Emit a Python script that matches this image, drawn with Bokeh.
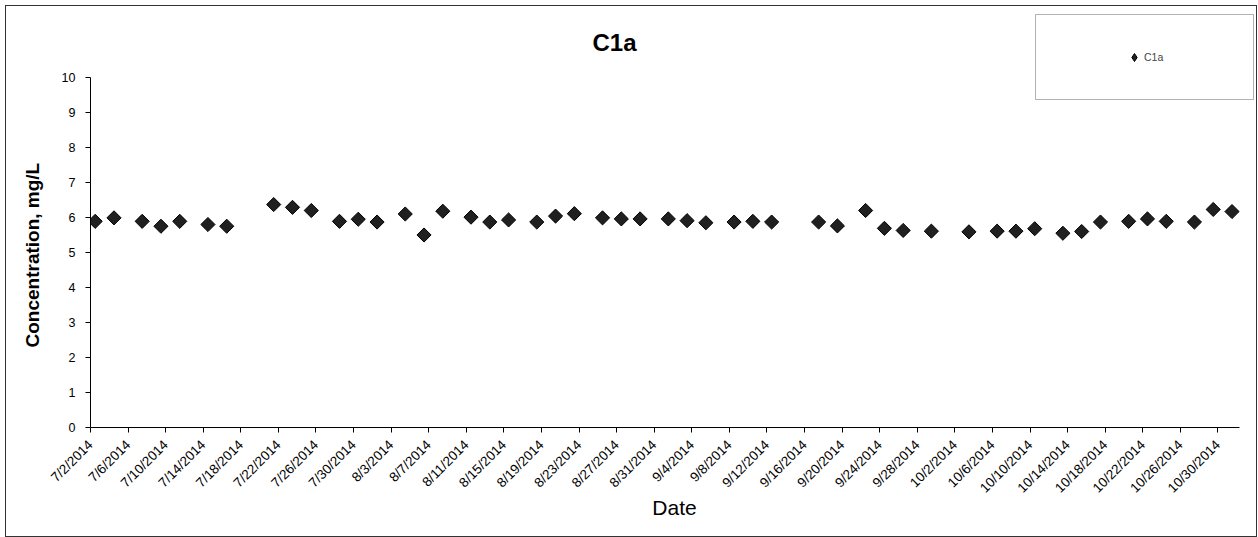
import numpy as np
import pandas as pd
from bokeh.plotting import figure
from bokeh.models import (Range1d, FixedTicker, Label, BoxAnnotation, Legend,
                          LegendItem, ColumnDataSource, Title, InlineStyleSheet)
from bokeh.embed import file_html
from bokeh.resources import INLINE

# ---------------- data ----------------
dates = [
    "2014-07-02", "2014-07-04", "2014-07-07", "2014-07-09", "2014-07-11",
    "2014-07-14", "2014-07-16", "2014-07-21", "2014-07-23", "2014-07-25",
    "2014-07-28", "2014-07-30", "2014-08-01", "2014-08-04", "2014-08-06",
    "2014-08-08", "2014-08-11", "2014-08-13", "2014-08-15", "2014-08-18",
    "2014-08-20", "2014-08-22", "2014-08-25", "2014-08-27", "2014-08-29",
    "2014-09-01", "2014-09-03", "2014-09-05", "2014-09-08", "2014-09-10",
    "2014-09-12", "2014-09-17", "2014-09-19", "2014-09-22", "2014-09-24",
    "2014-09-26", "2014-09-29", "2014-10-03", "2014-10-06", "2014-10-08",
    "2014-10-10", "2014-10-13", "2014-10-15", "2014-10-17", "2014-10-20",
    "2014-10-22", "2014-10-24", "2014-10-27", "2014-10-29", "2014-10-31",
]
conc = [
    5.89, 5.99, 5.89, 5.75, 5.89,
    5.80, 5.75, 6.37, 6.29, 6.20,
    5.89, 5.95, 5.87, 6.10, 5.50,
    6.18, 6.01, 5.87, 5.93, 5.87,
    6.04, 6.11, 5.99, 5.96, 5.96,
    5.96, 5.91, 5.85, 5.87, 5.89,
    5.87, 5.87, 5.76, 6.20, 5.69,
    5.63, 5.61, 5.59, 5.61, 5.61,
    5.68, 5.55, 5.60, 5.87, 5.89,
    5.96, 5.89, 5.87, 6.23, 6.17,
]
x_tick_labels = [
    "7/2/2014", "7/6/2014", "7/10/2014", "7/14/2014", "7/18/2014", "7/22/2014",
    "7/26/2014", "7/30/2014", "8/3/2014", "8/7/2014", "8/11/2014", "8/15/2014",
    "8/19/2014", "8/23/2014", "8/27/2014", "8/31/2014", "9/4/2014", "9/8/2014",
    "9/12/2014", "9/16/2014", "9/20/2014", "9/24/2014", "9/28/2014", "10/2/2014",
    "10/6/2014", "10/10/2014", "10/14/2014", "10/18/2014", "10/22/2014",
    "10/26/2014", "10/30/2014",
]
y_ticks = [0, 1, 2, 3, 4, 5, 6, 7, 8, 9, 10]
series_name = "C1a"
title_text = "C1a"
x_title = "Date"
y_title = "Concentration, mg/L"

# ---------------- derived ----------------
def to_ms(ts):
    return float(pd.Timestamp(ts).value // 10**6)

x_vals = [to_ms(pd.Timestamp(d) + pd.Timedelta(hours=12)) for d in dates]
tick_ms = [to_ms(pd.to_datetime(t, format="%m/%d/%Y")) for t in x_tick_labels]
x_axis_start = to_ms("2014-07-02 00:00")
x_axis_end = to_ms("2014-11-01 07:00")
x_view_end = to_ms("2014-11-03 07:40")   # frame runs on to the right edge
y_view_end = 12.2                        # frame runs on to the top edge

src = ColumnDataSource(dict(x=x_vals, y=conc))

FONT = "Liberation Sans"
W, H = 1258, 537
FL, FB = 90, 110          # frame left / bottom borders (px)
FRAME_BOTTOM = H - FB     # 427

p = figure(width=W, height=H, x_axis_type="datetime",
           x_range=Range1d(x_axis_start, x_view_end),
           y_range=Range1d(0, y_view_end),
           output_backend="svg", toolbar_location=None,
           min_border_left=FL, min_border_right=0,
           min_border_top=0, min_border_bottom=FB)
p.grid.visible = False
p.outline_line_color = None
p.background_fill_color = "white"
p.border_fill_color = "white"

# outer chart border (drawn over the canvas)
p.stylesheets = [InlineStyleSheet(css=(
    ":host { position: relative; }"
    ":host::after { content: ''; position: absolute; left: 5px; top: 5px;"
    " width: 1252px; height: 532px; box-sizing: border-box;"
    " border: 1px solid #333333; pointer-events: none; z-index: 10; }"
))]

# legend-only diamond renderer (hidden under the data markers)
r_leg = p.scatter(x="x", y="y", source=src, marker="diamond", size=7,
                  fill_color="#202020", line_color="black", line_width=1)
r = p.scatter(x="x", y="y", source=src, marker="square", angle=np.pi / 4,
              size=10, fill_color="#202020", line_color="black", line_width=1)

# axes
for ax in (p.xaxis[0], p.yaxis[0]):
    ax.axis_line_color = "black"
    ax.major_tick_line_color = "black"
    ax.major_tick_in = 0
    ax.major_tick_out = 5
    ax.minor_tick_line_color = None
    ax.major_label_text_font = FONT
    ax.major_label_text_color = "black"

p.xaxis.bounds = (x_axis_start, x_axis_end)
p.xaxis.ticker = FixedTicker(ticks=tick_ms)
p.xaxis.major_label_overrides = dict(zip(tick_ms, x_tick_labels))
p.xaxis.major_label_orientation = np.pi / 4
p.xaxis.major_label_text_font_size = "13.5px"
p.xaxis.major_label_standoff = 10
p.xaxis.axis_label = x_title
p.xaxis.axis_label_text_font = FONT
p.xaxis.axis_label_text_font_size = "21px"
p.xaxis.axis_label_text_font_style = "normal"
p.xaxis.axis_label_text_color = "black"
p.xaxis.axis_label_standoff = -8

p.yaxis.bounds = (0, 10)
p.yaxis.ticker = FixedTicker(ticks=y_ticks)
p.yaxis.major_label_text_font_size = "12.5px"
p.yaxis.major_label_standoff = 10

# y-axis title, placed in the left panel so it can sit beside the 0-10 span
p.add_layout(Title(text=y_title, align="left", offset=80, vertical_align="middle",
                   standoff=30, text_font=FONT, text_font_size="19px",
                   text_font_style="bold", text_color="black"), "left")

# chart title (inside the extended frame, screen px from frame's bottom-left)
p.add_layout(Label(x=614 - FL, y=FRAME_BOTTOM - 42, x_units="screen",
                   y_units="screen", text=title_text, text_font=FONT,
                   text_font_size="24px", text_font_style="bold",
                   text_align="center", text_baseline="middle",
                   text_color="black"))

# legend box
p.add_layout(BoxAnnotation(left=1035 - FL, right=1253 - FL,
                           top=FRAME_BOTTOM - 14, bottom=FRAME_BOTTOM - 99,
                           left_units="screen", right_units="screen",
                           top_units="screen", bottom_units="screen",
                           fill_alpha=0, line_color="black", line_width=1))
legend = Legend(items=[LegendItem(label=series_name, renderers=[r_leg])],
                location=(1124 - FL, FRAME_BOTTOM - 67), padding=0, margin=0,
                spacing=0, glyph_width=20, glyph_height=20, label_standoff=-9,
                label_height=20, label_text_font=FONT,
                label_text_font_size="10.5px", label_text_baseline="middle",
                border_line_color=None, background_fill_alpha=0)
p.add_layout(legend)

open("out.html", "w").write(file_html(p, INLINE))
